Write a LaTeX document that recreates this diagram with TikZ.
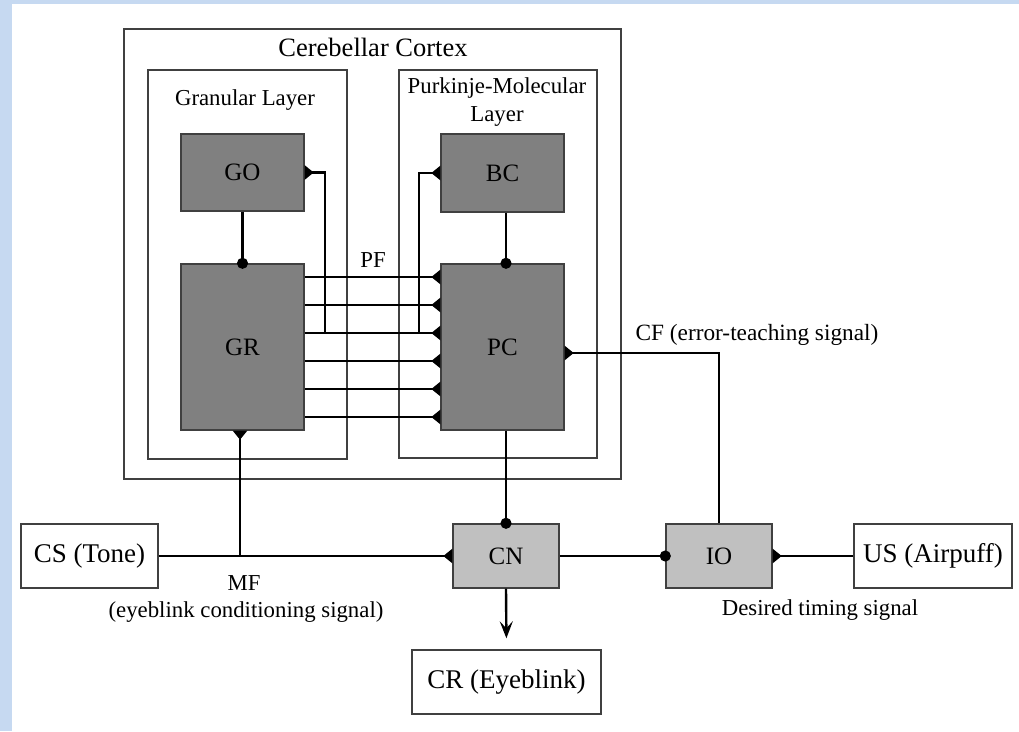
\documentclass[tikz,border=0pt]{standalone}
\usepackage{fontspec}
\setmainfont{Liberation Serif}
\usetikzlibrary{arrows.meta,calc}
\definecolor{bgblue}{HTML}{C6D9F1}
\definecolor{darkfill}{HTML}{808080}
\definecolor{lightfill}{HTML}{C0C0C0}
\definecolor{edgegray}{HTML}{404040}
\tikzset{
  cell/.style={draw=edgegray, line width=1.4pt, inner sep=0pt, font=\fontsize{25}{28}\selectfont},
  darkcell/.style={cell, fill=darkfill},
  lightcell/.style={cell, fill=lightfill},
  whitecell/.style={cell, fill=white, font=\fontsize{27}{30}\selectfont},
  layerbox/.style={draw=edgegray, line width=1.1pt},
  conn/.style={line width=2.4pt, black},
  inh/.style={conn, -{Triangle[reversed, width=14pt, length=9pt]}},
  dotend/.style={conn, -{Circle[length=11pt]}, shorten >=-5.5pt},
  exc/.style={conn, -{Stealth[length=17pt, width=13pt, inset=7pt]}},
  lbl/.style={inner sep=0pt, anchor=base, font=\fontsize{22.8}{26}\selectfont},
}
\begin{document}
\begin{tikzpicture}[x=1pt,y=-1pt]
\useasboundingbox (0,0) rectangle (1019,731);
\fill[bgblue] (0,0) rectangle (1019,731);
\fill[white] (12,4) rectangle (1019,731);

% layer frames
\draw[layerbox] (124,29) rectangle (621,479);
\draw[layerbox] (148,70) rectangle (347,459);
\draw[layerbox] (399,70) rectangle (597,458);
\node[lbl, font=\fontsize{26.5}{30}\selectfont] (ttlcc) at (373,56) {Cerebellar Cortex};
\node[lbl] (ttlgl) at (245,105) {Granular Layer};
\node[lbl] (ttlpm1) at (497,93) {Purkinje-Molecular};
\node[lbl] (ttlpm2) at (497,121) {Layer};

% cells
\node[darkcell, minimum width=123pt, minimum height=77pt] (GO) at (242.5,172.5) {GO};
\node[darkcell, minimum width=123pt, minimum height=166pt] (GR) at (242.5,347) {GR};
\node[darkcell, minimum width=123pt, minimum height=78pt] (BC) at (502.5,173) {BC};
\node[darkcell, minimum width=123pt, minimum height=166pt] (PC) at (502.5,347) {PC};
\node[whitecell, minimum width=137pt, minimum height=64pt] (CS) at (89.5,556) {CS (Tone)};
\node[lightcell, minimum width=106pt, minimum height=64pt] (CN) at (506,556) {CN};
\node[lightcell, minimum width=106pt, minimum height=64pt] (IO) at (719,556) {IO};
\node[whitecell, minimum width=158pt, minimum height=64pt] (US) at (933,556) {US (Airpuff)};
\node[whitecell, minimum width=189pt, minimum height=64pt] (CR) at (506.5,682) {CR (Eyeblink)};

% parallel fibres
\foreach \i/\yy in {1/277,2/305,3/333,4/361,5/389,6/417}{
  \coordinate (pf\i) at (0,\yy);
  \draw[inh] (GR.east |- pf\i) -- (PC.west |- pf\i);
}
\node[lbl] (pflbl) at (373,267) {PF};
\coordinate (goj) at (325,333);
\coordinate (bcj) at (419,333);
\draw[inh] (goj) |- (GO.east);
\draw[inh] (bcj) |- (BC.west);

% vertical links
\draw[dotend] (GO.south) -- (GR.north);
\draw[dotend] (BC.south -| CN.north) -- (PC.north -| CN.north);
\draw[dotend] (PC.south -| CN.north) -- (CN.north);

% mossy fibre
\draw[inh] (CS.east) -- (CN.west);
\coordinate (mfj) at (240,556);
\draw[inh] (mfj) -- (GR.south -| mfj);
\node[lbl] (mflbl) at (244,590) {MF};
\node[lbl] (mflbl2) at (246,617) {(eyeblink conditioning signal)};

% olive
\draw[dotend] (CN.east) -- (IO.west);
\draw[inh] (US.west) -- (IO.east);
\coordinate (cfy) at (0,353);
\draw[inh] (IO.north) |- (PC.east |- cfy);
\node[lbl, font=\fontsize{23.3}{26}\selectfont] (cflbl) at (757,340) {CF (error-teaching signal)};
\node[lbl] (dtlbl) at (820,615) {Desired timing signal};

% output
\draw[exc, shorten >=11pt] (CN.south) -- (CR.north);
\end{tikzpicture}
\end{document}
